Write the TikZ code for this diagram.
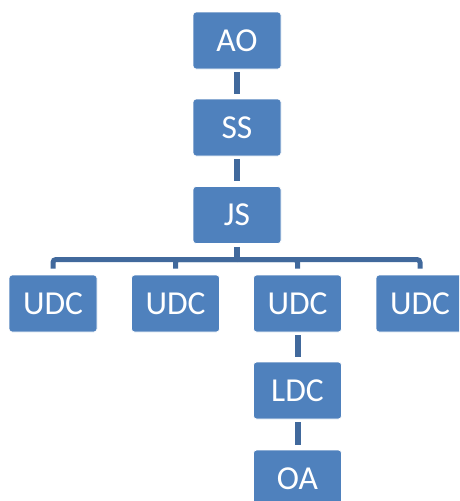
\documentclass[tikz,border=0pt]{standalone}
\usepackage{fontspec}
\setmainfont{Carlito}
\definecolor{boxblue}{HTML}{4F81BD}
\definecolor{lineblue}{HTML}{41699C}
\begin{document}
\begin{tikzpicture}[x=1pt,y=-1pt,
  box/.style={rectangle, rounded corners=3pt, fill=boxblue, draw=white, line width=0.8pt,
    minimum width=88pt, minimum height=57pt, inner sep=0pt, text=white,
    font=\fontsize{33.5}{40}\selectfont},
  conn/.style={draw=lineblue, line width=6pt, shorten <=3pt, shorten >=5pt},
  tree/.style={draw=lineblue, line width=5pt, rounded corners=3pt, shorten <=6pt}]
\useasboundingbox (0,0) rectangle (459,501);
\clip (0,0) rectangle (459,501);
\node[box] (AO) at (237,40.5) {AO};
\node[box] (SS) at (237,127.5) {SS};
\node[box] (JS) at (237,215) {JS};
\node[box] (U1) at (53,303.5) {UDC};
\node[box] (U2) at (175.5,303.5) {UDC};
\node[box] (U3) at (297.5,303.5) {UDC};
\node[box] (U4) at (420,303.5) {UDC};
\node[box] (LDC) at (297.5,390.5) {LDC};
\node[box] (OA) at (297.5,478.5) {OA};
\coordinate (bar) at (237,259.5);
\draw[conn] (AO) -- (SS);
\draw[conn] (SS) -- (JS);
\draw[draw=lineblue, line width=6pt, shorten <=3pt] (JS.south) -- ([yshift=2.5pt]bar);
\draw[tree] (U1.north) |- (bar);
\draw[tree] (U2.north) |- (bar);
\draw[tree] (U3.north) |- (bar);
\draw[tree] (U4.north) |- (bar);
\draw[conn] (U3) -- (LDC);
\draw[conn] (LDC) -- (OA);
\end{tikzpicture}
\end{document}
